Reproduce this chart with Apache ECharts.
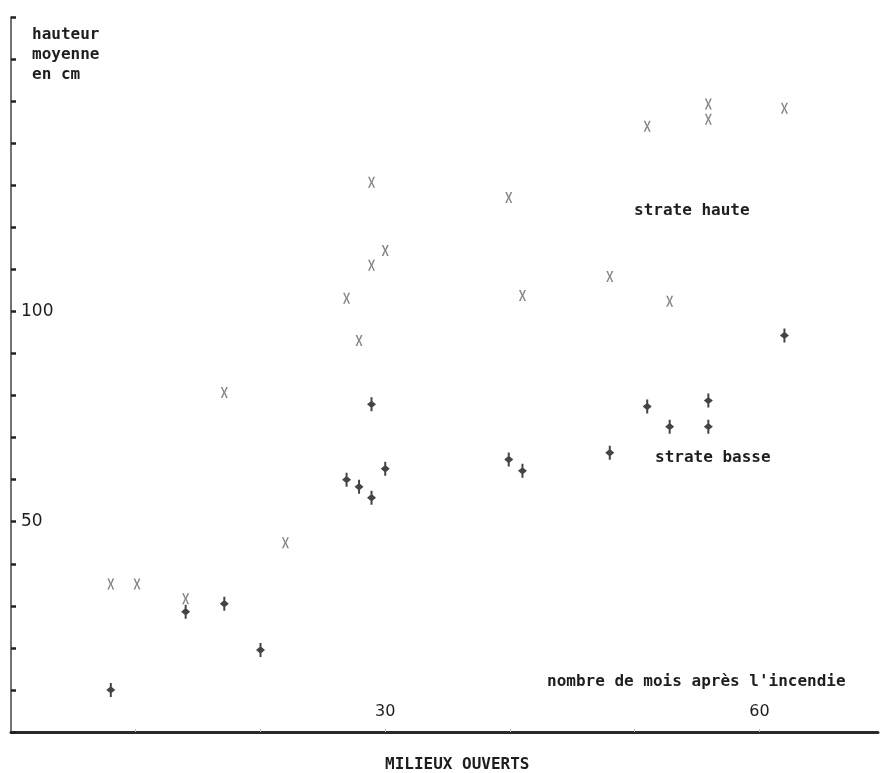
<!DOCTYPE html>
<html>
<head>
<meta charset="utf-8">
<script src="https://cdn.jsdelivr.net/npm/echarts@6/dist/echarts.min.js"></script>
<style>html,body{margin:0;padding:0;background:#fff}#c{width:880px;height:773px}</style>
</head>
<body>
<div id="c"></div>
<script>
// strate haute (x markers): [mois, hauteur cm]
const hauteMois   = [8, 10.1, 14, 17.1, 22, 26.9, 27.9, 28.9, 28.9, 30, 39.9, 41, 48, 51, 52.8, 55.9, 55.9, 62];
const hauteValues = [35.2, 35.2, 31.7, 80.7, 45, 103.1, 93.1, 111, 130.7, 114.5, 127.1, 103.8, 108.3, 144, 102.4, 149.3, 145.7, 148.3];
// strate basse (+ markers)
const basseMois   = [8, 14, 17.1, 20, 26.9, 27.9, 28.9, 28.9, 30, 39.9, 41, 48, 51, 52.8, 55.9, 55.9, 62];
const basseValues = [10, 28.6, 30.5, 19.5, 60, 58.3, 55.7, 77.9, 62.6, 64.8, 62.1, 66.4, 77.4, 72.6, 72.6, 78.8, 94.3];
const xTickLabels = [30, 60];
const yTickLabels = [50, 100];

const FONT = '"DejaVu Sans Mono", monospace';
const LFONT = '"DejaVu Sans", sans-serif';
const TXT = '#1e1e1e';
const chart = echarts.init(document.getElementById('c'));
const xPath = 'path://M0,0 L2.4,0 L5,4 L7.6,0 L10,0 L6.3,5 L10,10 L7.6,10 L5,6 L2.4,10 L0,10 L3.7,5 Z';
const plusPath = 'path://M4,0 L6,0 L6,3.5 L9.5,6 L6,8.5 L6,12 L4,12 L4,8.5 L0.5,6 L4,3.5 Z';

chart.setOption({
  animation: false,
  backgroundColor: '#fff',
  grid: {left: 11, right: 2, top: 17, bottom: 41},
  xAxis: {
    type: 'value', min: 0, max: 69.5, interval: 10,
    splitLine: {show: false},
    axisLine: {show: true, onZero: false, lineStyle: {color: '#2a2a2a', width: 3}},
    axisTick: {show: true, inside: true, length: 3, customValues: [10, 20, 30, 40, 50, 60], lineStyle: {color: '#bbb', width: 1}},
    axisLabel: {show: true, inside: true, margin: 12, customValues: xTickLabels,
      formatter: v => xTickLabels.includes(v) ? String(v) : '',
      fontFamily: LFONT, fontSize: 16, color: TXT}
  },
  yAxis: {
    type: 'value', min: 0, max: 170, interval: 10,
    splitLine: {show: false},
    axisLine: {show: true, onZero: false, lineStyle: {color: '#444', width: 1.5}},
    axisTick: {show: true, inside: true, length: 5, lineStyle: {color: '#222', width: 2.5}},
    axisLabel: {show: true, inside: true, margin: 10,
      formatter: v => yTickLabels.includes(v) ? String(v) : '',
      fontFamily: LFONT, fontSize: 17, color: TXT}
  },
  series: [
    {
      name: 'strate haute', type: 'scatter',
      symbol: xPath, symbolSize: [7, 11],
      itemStyle: {color: '#666'},
      data: hauteMois.map((m, i) => [m, hauteValues[i]])
    },
    {
      name: 'strate basse', type: 'scatter',
      symbol: plusPath, symbolSize: [9, 14],
      itemStyle: {color: '#151515'},
      data: basseMois.map((m, i) => [m, basseValues[i]])
    }
  ],
  graphic: [
    {type: 'text', left: 32, top: 25, style: {text: 'hauteur\nmoyenne\nen cm', font: 'bold 16px ' + FONT, fill: TXT, lineHeight: 20}},
    {type: 'text', left: 634, top: 203, style: {text: 'strate haute', font: 'bold 16px ' + FONT, fill: TXT}},
    {type: 'text', left: 655, top: 450, style: {text: 'strate basse', font: 'bold 16px ' + FONT, fill: TXT}},
    {type: 'text', left: 547, top: 674, style: {text: "nombre de mois après l'incendie", font: 'bold 16px ' + FONT, fill: TXT}},
    {type: 'text', left: 385, top: 757, style: {text: 'MILIEUX OUVERTS', font: 'bold 16px ' + FONT, fill: TXT}}
  ]
});
</script>
</body>
</html>
